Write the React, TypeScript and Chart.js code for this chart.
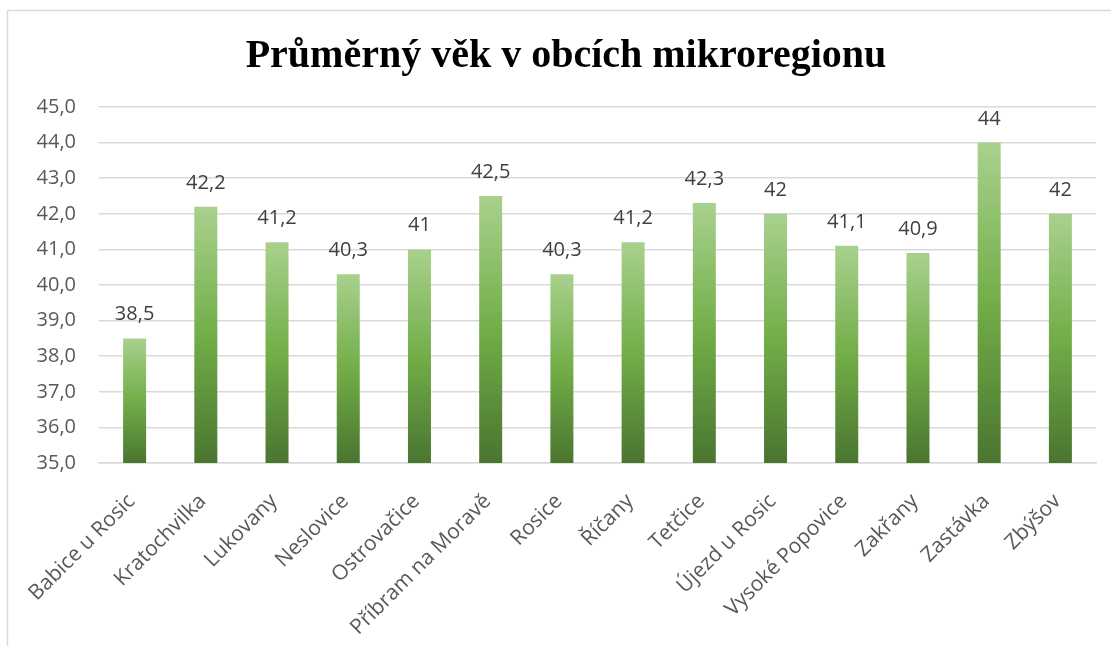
import React, { useEffect, useRef } from "react";
import { Chart, registerables } from "chart.js";

Chart.register(...registerables);

const chartTitle = "Průměrný věk v obcích mikroregionu";
const categories = [
  "Babice u Rosic",
  "Kratochvilka",
  "Lukovany",
  "Neslovice",
  "Ostrovačice",
  "Příbram na Moravě",
  "Rosice",
  "Říčany",
  "Tetčice",
  "Újezd u Rosic",
  "Vysoké Popovice",
  "Zakřany",
  "Zastávka",
  "Zbýšov",
];
const averageAge = [38.5, 42.2, 41.2, 40.3, 41, 42.5, 40.3, 41.2, 42.3, 42, 41.1, 40.9, 44, 42];
const yMin = 35;
const yMax = 45;
const yStep = 1;

const W = 1111;
const H = 646;
const PLOT_LEFT = 99;
const PLOT_RIGHT = 1096;
const PLOT_TOP = 107;
const PLOT_BOTTOM = 463;
const FONT = "'Open Sans', 'Noto Sans', sans-serif";

const fmt = (v: number) => String(v).replace(".", ",");

const decorPlugin = {
  id: "decor",
  beforeDraw(chart: any) {
    const ctx = chart.ctx;
    ctx.save();
    ctx.fillStyle = "#ffffff";
    ctx.fillRect(0, 0, chart.width, chart.height);
    ctx.strokeStyle = "#d9d9d9";
    ctx.lineWidth = 1.5;
    ctx.beginPath();
    ctx.moveTo(7.5, chart.height);
    ctx.lineTo(7.5, 10.5);
    ctx.lineTo(chart.width, 10.5);
    ctx.stroke();
    ctx.fillStyle = "#000000";
    ctx.font = "bold 40px 'Liberation Serif', serif";
    ctx.textAlign = "center";
    ctx.textBaseline = "alphabetic";
    ctx.fillText(chartTitle, 566, 67);
    ctx.restore();
  },
  afterDatasetsDraw(chart: any) {
    const ctx = chart.ctx;
    const meta = chart.getDatasetMeta(0);
    ctx.save();
    ctx.fillStyle = "#404040";
    ctx.font = `20px ${FONT}`;
    ctx.textAlign = "center";
    ctx.textBaseline = "alphabetic";
    meta.data.forEach((bar: any, i: number) => {
      ctx.fillText(fmt(averageAge[i]), bar.x, bar.y - 18);
    });
    ctx.restore();
  },
};

export default function App() {
  const canvasRef = useRef<HTMLCanvasElement | null>(null);

  useEffect(() => {
    if (!canvasRef.current) return;
    const chart = new Chart(canvasRef.current, {
      type: "bar",
      data: {
        labels: categories,
        datasets: [
          {
            data: averageAge,
            barPercentage: 0.323,
            categoryPercentage: 1,
            backgroundColor: (c: any) => {
              const ch = c.chart;
              if (!ch.chartArea || c.type !== "data" || !ch.scales?.y) return "#72ae48";
              const top = ch.scales.y.getPixelForValue(c.raw);
              const base = ch.scales.y.getPixelForValue(yMin);
              if (!isFinite(top) || !isFinite(base) || top === base) return "#72ae48";
              const g = ch.ctx.createLinearGradient(0, top, 0, base);
              g.addColorStop(0, "#a9d18e");
              g.addColorStop(0.5, "#72ae48");
              g.addColorStop(1, "#4a7530");
              return g;
            },
            borderWidth: 0,
          },
        ],
      },
      options: {
        responsive: false,
        devicePixelRatio: 1,
        animation: false,
        layout: {
          padding: { top: PLOT_TOP, left: 0, right: W - PLOT_RIGHT, bottom: 0 },
        },
        plugins: {
          legend: { display: false },
          title: { display: false },
          tooltip: { enabled: false },
        },
        scales: {
          x: {
            grid: { display: false, drawTicks: false },
            border: { display: true, color: "#d9d9d9", width: 1.5 },
            ticks: {
              autoSkip: false,
              minRotation: 45,
              maxRotation: 45,
              padding: 26,
              labelOffset: -3,
              color: "#595959",
              font: { family: FONT, size: 21 },
            },
            afterFit: (s: any) => {
              s.height = H - PLOT_BOTTOM;
            },
          },
          y: {
            min: yMin,
            max: yMax,
            grid: { color: "#d9d9d9", lineWidth: 1.5, drawTicks: false },
            border: { display: false },
            ticks: {
              stepSize: yStep,
              padding: 23,
              color: "#595959",
              font: { family: FONT, size: 20 },
              callback: (v: any) => Number(v).toFixed(1).replace(".", ","),
            },
            afterFit: (s: any) => {
              s.width = PLOT_LEFT;
            },
          },
        },
      },
      plugins: [decorPlugin],
    });
    return () => chart.destroy();
  }, []);

  return (
    <div style={{ position: "absolute", left: 0, top: 0, width: W, height: H, background: "#fff" }}>
      <canvas ref={canvasRef} width={W} height={H} style={{ display: "block" }} />
    </div>
  );
}
